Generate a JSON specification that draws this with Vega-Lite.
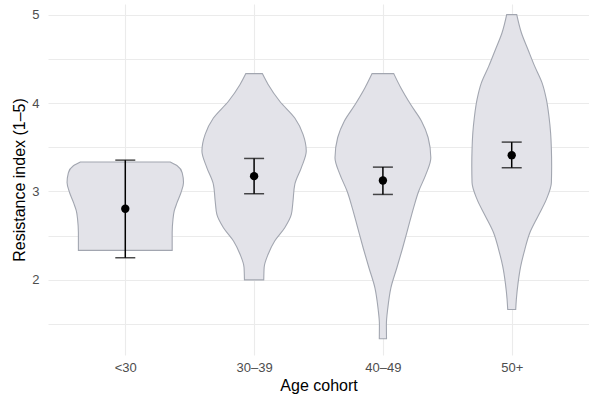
{
  "$schema": "https://vega.github.io/schema/vega-lite/v6.json",
  "width": 541,
  "height": 351,
  "autosize": {"type": "none"},
  "padding": {"left": 48, "top": 4, "right": 0, "bottom": 39},
  "background": "white",
  "config": {
    "view": {"stroke": null},
    "font": "Liberation Sans",
    "axis": {
      "domain": false,
      "ticks": false,
      "grid": true,
      "gridColor": "#ebebeb",
      "gridWidth": 1.1,
      "labelFont": "Liberation Sans",
      "labelFontSize": 13,
      "labelColor": "#4d4d4d",
      "titleFont": "Liberation Sans",
      "titleFontSize": 16,
      "titleFontWeight": "normal",
      "titleColor": "#000000"
    }
  },
  "datasets": {
    "violin": [
      {"cohort": "<30", "pos": 1, "value": 2.333, "half": 0.364},
      {"cohort": "<30", "pos": 1, "value": 2.535, "half": 0.364},
      {"cohort": "<30", "pos": 1, "value": 2.68, "half": 0.370},
      {"cohort": "<30", "pos": 1, "value": 2.78, "half": 0.380},
      {"cohort": "<30", "pos": 1, "value": 2.87, "half": 0.401},
      {"cohort": "<30", "pos": 1, "value": 2.985, "half": 0.432},
      {"cohort": "<30", "pos": 1, "value": 3.10, "half": 0.452},
      {"cohort": "<30", "pos": 1, "value": 3.21, "half": 0.442},
      {"cohort": "<30", "pos": 1, "value": 3.29, "half": 0.403},
      {"cohort": "<30", "pos": 1, "value": 3.333, "half": 0.349},
      {"cohort": "30–39", "pos": 2, "value": 2.0, "half": 0.075},
      {"cohort": "30–39", "pos": 2, "value": 2.14, "half": 0.078},
      {"cohort": "30–39", "pos": 2, "value": 2.29, "half": 0.109},
      {"cohort": "30–39", "pos": 2, "value": 2.44, "half": 0.160},
      {"cohort": "30–39", "pos": 2, "value": 2.59, "half": 0.238},
      {"cohort": "30–39", "pos": 2, "value": 2.74, "half": 0.289},
      {"cohort": "30–39", "pos": 2, "value": 2.89, "half": 0.302},
      {"cohort": "30–39", "pos": 2, "value": 3.08, "half": 0.316},
      {"cohort": "30–39", "pos": 2, "value": 3.27, "half": 0.367},
      {"cohort": "30–39", "pos": 2, "value": 3.456, "half": 0.405},
      {"cohort": "30–39", "pos": 2, "value": 3.645, "half": 0.380},
      {"cohort": "30–39", "pos": 2, "value": 3.83, "half": 0.316},
      {"cohort": "30–39", "pos": 2, "value": 4.02, "half": 0.199},
      {"cohort": "30–39", "pos": 2, "value": 4.21, "half": 0.109},
      {"cohort": "30–39", "pos": 2, "value": 4.333, "half": 0.064},
      {"cohort": "40–49", "pos": 3, "value": 1.333, "half": 0.028},
      {"cohort": "40–49", "pos": 3, "value": 1.495, "half": 0.027},
      {"cohort": "40–49", "pos": 3, "value": 1.68, "half": 0.038},
      {"cohort": "40–49", "pos": 3, "value": 1.91, "half": 0.062},
      {"cohort": "40–49", "pos": 3, "value": 2.14, "half": 0.109},
      {"cohort": "40–49", "pos": 3, "value": 2.36, "half": 0.153},
      {"cohort": "40–49", "pos": 3, "value": 2.59, "half": 0.196},
      {"cohort": "40–49", "pos": 3, "value": 2.815, "half": 0.238},
      {"cohort": "40–49", "pos": 3, "value": 3.0, "half": 0.277},
      {"cohort": "40–49", "pos": 3, "value": 3.19, "half": 0.333},
      {"cohort": "40–49", "pos": 3, "value": 3.38, "half": 0.372},
      {"cohort": "40–49", "pos": 3, "value": 3.61, "half": 0.351},
      {"cohort": "40–49", "pos": 3, "value": 3.795, "half": 0.300},
      {"cohort": "40–49", "pos": 3, "value": 3.98, "half": 0.217},
      {"cohort": "40–49", "pos": 3, "value": 4.17, "half": 0.140},
      {"cohort": "40–49", "pos": 3, "value": 4.333, "half": 0.084},
      {"cohort": "50+", "pos": 4, "value": 1.665, "half": 0.031},
      {"cohort": "50+", "pos": 4, "value": 1.78, "half": 0.036},
      {"cohort": "50+", "pos": 4, "value": 1.96, "half": 0.049},
      {"cohort": "50+", "pos": 4, "value": 2.155, "half": 0.070},
      {"cohort": "50+", "pos": 4, "value": 2.34, "half": 0.101},
      {"cohort": "50+", "pos": 4, "value": 2.53, "half": 0.140},
      {"cohort": "50+", "pos": 4, "value": 2.72, "half": 0.204},
      {"cohort": "50+", "pos": 4, "value": 2.91, "half": 0.269},
      {"cohort": "50+", "pos": 4, "value": 3.10, "half": 0.308},
      {"cohort": "50+", "pos": 4, "value": 3.286, "half": 0.310},
      {"cohort": "50+", "pos": 4, "value": 3.475, "half": 0.308},
      {"cohort": "50+", "pos": 4, "value": 3.66, "half": 0.302},
      {"cohort": "50+", "pos": 4, "value": 3.85, "half": 0.289},
      {"cohort": "50+", "pos": 4, "value": 4.04, "half": 0.269},
      {"cohort": "50+", "pos": 4, "value": 4.23, "half": 0.235},
      {"cohort": "50+", "pos": 4, "value": 4.417, "half": 0.178},
      {"cohort": "50+", "pos": 4, "value": 4.606, "half": 0.126},
      {"cohort": "50+", "pos": 4, "value": 4.795, "half": 0.075},
      {"cohort": "50+", "pos": 4, "value": 5.0, "half": 0.039}
    ],
    "summary": [
      {"cohort": "<30", "pos": 1, "mean": 2.804, "lo": 2.25, "hi": 3.354},
      {"cohort": "30–39", "pos": 2, "mean": 3.173, "lo": 2.974, "hi": 3.373},
      {"cohort": "40–49", "pos": 3, "mean": 3.124, "lo": 2.966, "hi": 3.275},
      {"cohort": "50+", "pos": 4, "mean": 3.41, "lo": 3.268, "hi": 3.558}
    ]
  },
  "layer": [
    {
      "data": {"name": "violin"},
      "transform": [
        {"calculate": "datum.pos - datum.half", "as": "left"},
        {"calculate": "datum.pos + datum.half", "as": "right"}
      ],
      "mark": {"type": "area", "orient": "horizontal", "interpolate": "monotone", "fill": "#e3e3e9", "fillOpacity": 1, "stroke": "#a2a6b0", "strokeWidth": 1.1},
      "encoding": {
        "y": {"field": "value", "type": "quantitative", "scale": {"domain": [1.15, 5.12], "nice": false, "zero": false},
          "axis": {"title": "Resistance index (1–5)", "values": [1.5, 2, 2.5, 3, 3.5, 4, 4.5, 5], "labelExpr": "datum.value % 1 == 0 ? '' + datum.value : ''", "labelPadding": 9, "titlePadding": 4}},
        "x": {"field": "left", "type": "quantitative", "scale": {"domain": [0.4, 4.6], "nice": false, "zero": false},
          "axis": {"title": "Age cohort", "values": [1, 2, 3, 4], "labelExpr": "['<30','30–39','40–49','50+'][datum.value - 1]", "labelPadding": 6, "titlePadding": 3}},
        "x2": {"field": "right"},
        "detail": {"field": "cohort"}
      }
    },
    {
      "data": {"name": "summary"},
      "mark": {"type": "rule", "color": "#000000", "strokeWidth": 1.5},
      "encoding": {
        "x": {"field": "pos", "type": "quantitative"},
        "y": {"field": "lo", "type": "quantitative"},
        "y2": {"field": "hi"}
      }
    },
    {
      "data": {"name": "summary"},
      "mark": {"type": "tick", "orient": "horizontal", "color": "#000000", "size": 20, "thickness": 1.5},
      "encoding": {
        "x": {"field": "pos", "type": "quantitative"},
        "y": {"field": "lo", "type": "quantitative"}
      }
    },
    {
      "data": {"name": "summary"},
      "mark": {"type": "tick", "orient": "horizontal", "color": "#000000", "size": 20, "thickness": 1.5},
      "encoding": {
        "x": {"field": "pos", "type": "quantitative"},
        "y": {"field": "hi", "type": "quantitative"}
      }
    },
    {
      "data": {"name": "summary"},
      "mark": {"type": "point", "filled": true, "color": "#000000", "opacity": 1, "size": 70},
      "encoding": {
        "x": {"field": "pos", "type": "quantitative"},
        "y": {"field": "mean", "type": "quantitative"}
      }
    }
  ]
}
